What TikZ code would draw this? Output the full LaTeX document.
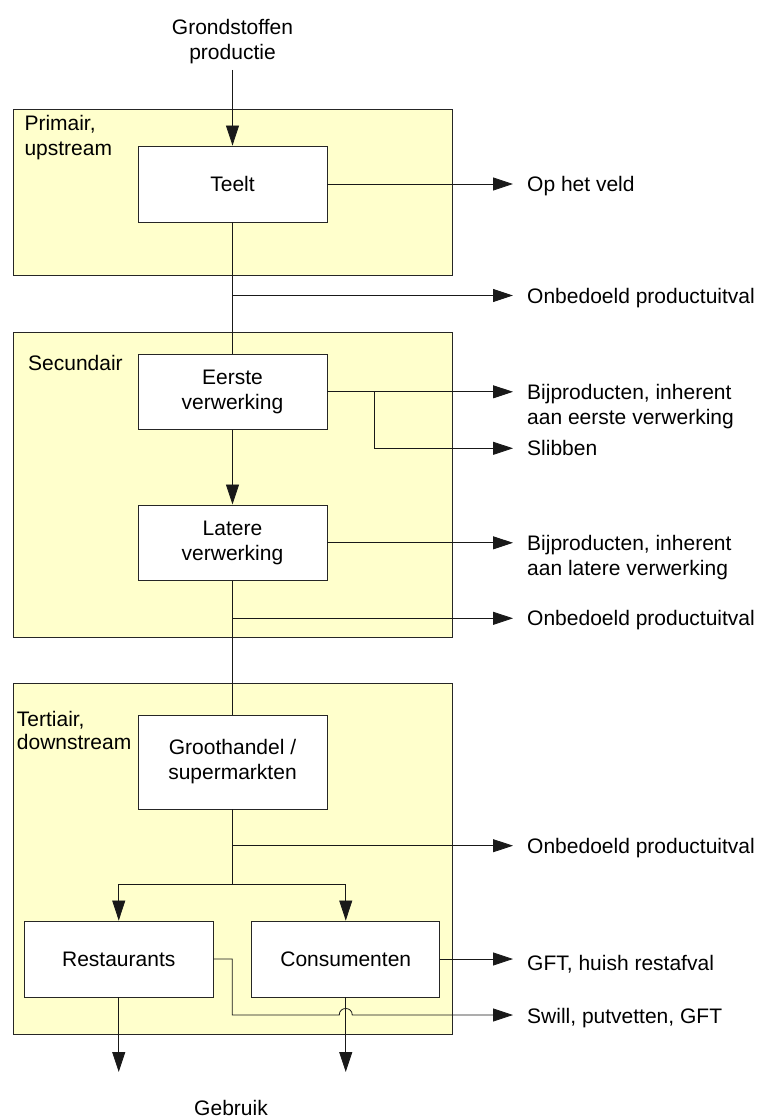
\documentclass[tikz,border=0pt]{standalone}
\usepackage{fontspec}
\setmainfont{Liberation Sans}
\usetikzlibrary{arrows.meta}
\definecolor{grp}{HTML}{FFFFCC}
\begin{document}
\begin{tikzpicture}[x=1pt,y=-1pt,
  every node/.style={font=\fontsize{21}{25}\selectfont},
  group/.style={draw=black!85, fill=grp, line width=0.9pt, minimum width=438.7pt, anchor=north west, inner sep=0pt},
  proc/.style={draw=black!85, fill=white, line width=0.9pt, minimum width=189pt, align=center, inner sep=0pt},
  lbl/.style={inner sep=0pt, align=left},
  conn/.style={line width=0.8pt, draw=black!90},
  arr/.style={conn, -{Triangle[length=20pt,width=13pt]}},
]
\fill[white] (0,0) rectangle (760,1118);
\useasboundingbox (0,0) rectangle (760,1118);

% groups
\node[group, minimum height=166pt] (prim) at (13.3,109) {};
\node[group, minimum height=305pt] (sec) at (13.3,331.7) {};
\node[group, minimum height=351.6pt] (ter) at (13.3,682.7) {};

\node[lbl, anchor=west] (primlbl) at (24.3,137.7) {Primair,\\upstream};
\node[lbl, anchor=base west] (seclbl) at (28,370.2) {Secundair};
\node[lbl, anchor=west, font=\fontsize{21}{23}\selectfont] (terlbl) at (16.7,730.4) {Tertiair,\\downstream};

% process boxes
\node[proc, minimum height=76pt] (teelt) at (232.5,184) {Teelt};
\node[proc, minimum height=75pt] (eerste) at (232.5,391.8) {Eerste\\verwerking};
\node[proc, minimum height=75.7pt] (latere) at (232.5,542.8) {Latere\\verwerking};
\node[proc, minimum height=94pt] (groot) at (232.5,762) {Groothandel /\\supermarkten};
\node[proc, minimum height=76pt] (rest) at (118.75,959) {Restaurants};
\node[proc, minimum height=76pt, minimum width=188pt] (cons) at (345.75,959) {Consumenten};

% source and sink texts
\node[lbl, align=center] (src) at (232.5,41.5) {Grondstoffen\\productie};
\node[lbl] (use) at (231,1108) {Gebruik};

% output labels
\node[lbl, anchor=base west] (veld) at (527,191.3) {Op het veld};
\node[lbl, anchor=base west] (onb1) at (527,303.5) {Onbedoeld productuitval};
\node[lbl, anchor=west] (bij1) at (527,406.3) {Bijproducten, inherent\\aan eerste verwerking};
\node[lbl, anchor=base west] (slib) at (527,455.8) {Slibben};
\node[lbl, anchor=west] (bij2) at (527,557.3) {Bijproducten, inherent\\aan latere verwerking};
\node[lbl, anchor=base west] (onb2) at (527,625.8) {Onbedoeld productuitval};
\node[lbl, anchor=base west] (onb3) at (527,853.2) {Onbedoeld productuitval};
\node[lbl, anchor=base west] (gft) at (527,970) {GFT, huish restafval};
\node[lbl, anchor=base west] (swill) at (527,1023) {Swill, putvetten, GFT};

% coordinates
\coordinate (srcend) at (232.5,70);
\coordinate (o1) at (513,184);
\coordinate (j1) at (232.5,295.5);
\coordinate (o2) at (513,295.5);
\coordinate (o3) at (513,391.8);
\coordinate (j2) at (374,391.8);
\coordinate (o4) at (513,448.3);
\coordinate (o5) at (513,542.8);
\coordinate (j3) at (232.5,618.3);
\coordinate (o6) at (513,618.3);
\coordinate (j5) at (232.5,845.7);
\coordinate (o7) at (513,845.7);
\coordinate (j4) at (232.5,884);
\coordinate (o8) at (513,959);
\coordinate (j6) at (232.3,1015);
\coordinate (hopL) at (339.25,1015);
\coordinate (hopR) at (352.25,1015);
\coordinate (o9) at (513,1015);
\coordinate (e1) at (118.75,1072);
\coordinate (e2) at (345.75,1072);

% connectors
\draw[arr] (srcend) -- (teelt.north);
\draw[arr] (teelt.east) -- (o1);
\draw[conn] (teelt.south) -- (eerste.north);
\draw[arr] (j1) -- (o2);
\draw[arr] (eerste.east) -- (o3);
\draw[arr] (j2) |- (o4);
\draw[arr] (eerste.south) -- (latere.north);
\draw[arr] (latere.east) -- (o5);
\draw[conn] (latere.south) -- (groot.north);
\draw[arr] (j3) -- (o6);
\draw[conn] (groot.south) -- (j4);
\draw[arr] (j5) -- (o7);
\draw[arr] (j4) -| (rest.north);
\draw[arr] (j4) -| (cons.north);
\draw[arr] (cons.east) -- (o8);
\draw[arr] (rest.east) -| (j6) -- (hopL) .. controls (339.25,1006.3) and (352.25,1006.3) .. (hopR) -- (o9);
\draw[arr] (rest.south) -- (e1);
\draw[arr] (cons.south) -- (e2);
\end{tikzpicture}
\end{document}
